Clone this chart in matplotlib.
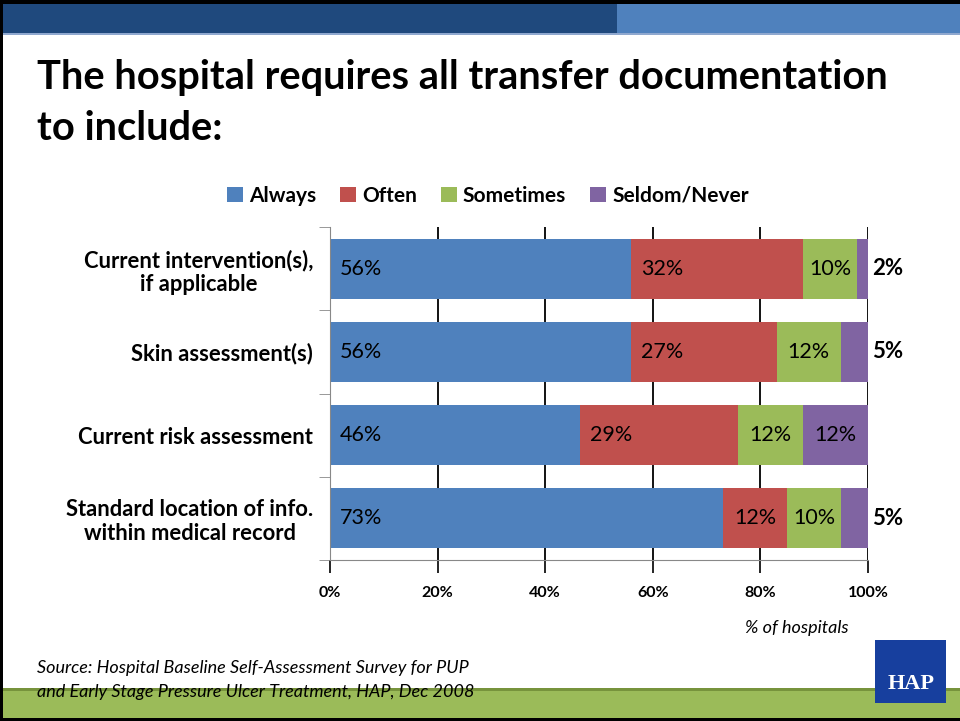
import numpy as np
import matplotlib.pyplot as plt
from matplotlib.patches import Rectangle

plt.rcParams['font.family'] = ['Lato', 'DejaVu Sans']

# data (top to bottom as shown)
categories = ["Current intervention(s),\nif applicable",
              "Skin assessment(s)",
              "Current risk assessment",
              "Standard location of info.\nwithin medical record"]
series_names = ["Always", "Often", "Sometimes", "Seldom/Never"]
always = [56, 56, 46, 73]
often = [32, 27, 29, 12]
sometimes = [10, 12, 12, 10]
seldom = [2, 5, 12, 5]
colors = ['#4F81BD', '#C0504D', '#9BBB59', '#8064A2']
x_ticks = [0, 20, 40, 60, 80, 100]

W, H = 960, 721
fig = plt.figure(figsize=(W / 100, H / 100), dpi=100)


def fx(px):
    return px / W


def fy(py):
    return 1 - py / H


def rect(x0, y0, x1, y1, color, z=0):
    # pixel box (top-left origin) -> figure patch
    fig.patches.append(Rectangle((fx(x0), fy(y1)), fx(x1) - fx(x0), fy(y0) - fy(y1),
                                 transform=fig.transFigure, facecolor=color,
                                 edgecolor='none', zorder=z))


# slide frame / header / footer bars
rect(0, 0, 960, 4, 'black')
rect(0, 0, 3, 721, 'black')
rect(3, 4, 617, 33, '#1F497D')
rect(617, 4, 960, 33, '#4F81BD')
rect(3, 33, 960, 35, '#8FA8CF')
rect(3, 688, 960, 691, '#77933C')
rect(3, 691, 960, 718, '#9BBB59')
rect(0, 718, 960, 721, 'black')

# title
fig.text(fx(37), fy(78), "The hospital requires all transfer documentation",
         fontsize=28.7, fontweight='bold', va='center', ha='left')
fig.text(fx(37), fy(128), "to include:",
         fontsize=28.7, fontweight='bold', va='center', ha='left')

# chart
ax = fig.add_axes([fx(330), fy(560), fx(868) - fx(330), fy(227) - fy(560)])
data = np.array([always, often, sometimes, seldom], dtype=float)
shares = data / data.sum(axis=0) * 100
y = np.arange(len(categories))
left = np.zeros(len(categories))
bars = []
for i, name in enumerate(series_names):
    b = ax.barh(y, shares[i], left=left, height=0.72, color=colors[i], label=name, zorder=2)
    bars.append(b)
    for j in range(len(categories)):
        val = int(data[i, j])
        x0 = left[j]
        w = shares[i, j]
        if i == 3 and val < 10:
            ax.text(100.8, y[j], f"{val}%", ha='left', va='center', fontsize=16,
                    fontweight='bold', zorder=3, clip_on=False)
        elif w >= 20:
            ax.text(x0 + 1.8, y[j], f"{val}%", ha='left', va='center', fontsize=15.5, zorder=3)
        else:
            ax.text(x0 + w / 2, y[j], f"{val}%", ha='center', va='center', fontsize=15.5, zorder=3)
    left += shares[i]

ax.set_xlim(0, 100)
ax.set_ylim(len(categories) - 0.5, -0.5)
ax.set_xticks(x_ticks)
ax.set_xticklabels([f"{t}%" for t in x_ticks], fontsize=11.5, fontweight='bold')
ax.set_yticks(y)
ax.set_yticklabels(categories, fontsize=15.8, fontweight='bold', multialignment='center',
                   linespacing=1.15)
ax.set_yticks(np.arange(-0.5, len(categories)), minor=True)
ax.tick_params(axis='y', which='major', length=0, pad=12)
ax.tick_params(axis='y', which='minor', length=8, color='#888888', direction='out')
ax.tick_params(axis='x', length=9, color='black', width=1.2, pad=10)
ax.grid(axis='x', color='black', linewidth=1.3)
ax.set_axisbelow(True)
for s in ['top', 'right']:
    ax.spines[s].set_visible(False)
ax.spines['left'].set_color('#888888')
ax.spines['bottom'].set_color('#888888')

fig.legend(handles=bars, labels=series_names, loc='center',
           bbox_to_anchor=(fx(488), fy(196)), ncol=4, frameon=False,
           prop={'weight': 'bold', 'size': 15},
           handlelength=0.75, handleheight=0.75, handletextpad=0.3, columnspacing=1.15)

fig.text(fx(745), fy(628), "% of hospitals", fontsize=13, style='italic', va='center')
fig.text(fx(37), fy(668), "Source: Hospital Baseline Self-Assessment Survey for PUP",
         fontsize=13, style='italic', va='center')
fig.text(fx(37), fy(692), "and Early Stage Pressure Ulcer Treatment, HAP, Dec 2008",
         fontsize=13, style='italic', va='center')

# HAP logo box
rect(875, 640, 946, 703, '#173F9E', z=5)
fig.text(fx(911), fy(684), "HAP", color='white', fontsize=16, fontweight='bold',
         family='Liberation Serif', ha='center', va='center', zorder=6)

fig.savefig('out.png', dpi=100)
